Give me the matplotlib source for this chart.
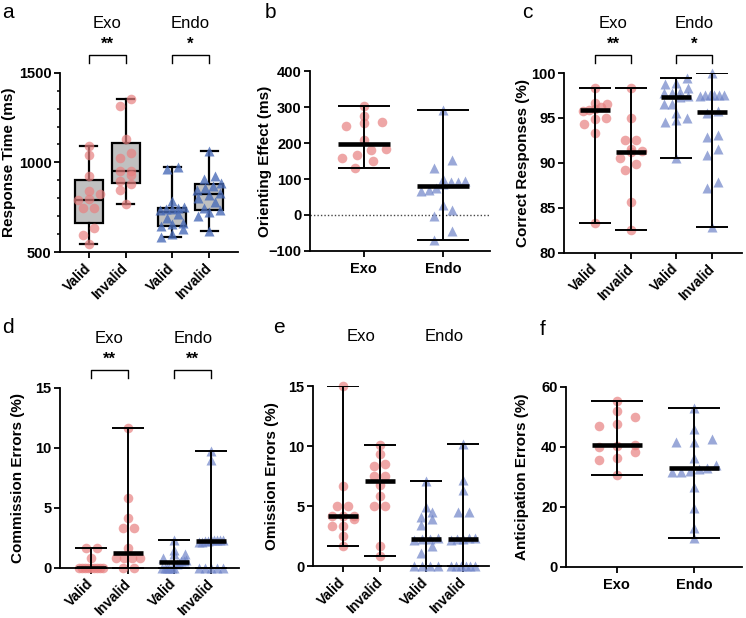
import numpy as np
import matplotlib
matplotlib.use("Agg")
import matplotlib.pyplot as plt
from matplotlib.transforms import blended_transform_factory

plt.rcParams['font.family'] = ['Liberation Sans', 'DejaVu Sans']

# ---- data ----
groups4 = ['Valid', 'Invalid', 'Valid', 'Invalid']
groups2 = ['Exo', 'Endo']

# a: response time (ms)
a_exo_valid = [1093, 1041, 922, 842, 822, 794, 790, 745, 745, 636, 595, 543]
a_exo_invalid = [1351, 1316, 1128, 1050, 1022, 952, 950, 929, 898, 880, 846, 766]
a_endo_valid = [972, 966, 784, 750, 745, 742, 740, 735, 715, 690, 665, 655, 645, 630, 600, 586]
a_endo_invalid = [1063, 926, 905, 885, 870, 860, 845, 830, 816, 800, 780, 745, 735, 725, 700, 619]

# b: orienting effect (ms)
b_exo = [303, 275, 259, 256, 247, 208, 185, 180, 168, 160, 151, 131]
b_endo = [291, 154, 132, 100, 95, 92, 92, 85, 75, 70, 68, 27, 13, -2, -45, -70]

# c: correct responses (%)
c_exo_valid = [98.37, 96.7, 96.6, 96.25, 96.0, 95.9, 95.8, 95.0, 94.9, 94.3, 93.36, 83.34]
c_exo_invalid = [98.37, 95.03, 92.5, 92.5, 91.6, 91.3, 91.2, 90.5, 89.9, 89.2, 85.7, 82.5]
c_endo_valid = [99.5, 98.9, 98.8, 98.3, 97.9, 97.8, 97.8, 97.4, 97.35, 96.6, 96.6, 95.5, 95.0, 94.8, 94.5, 90.6]
c_endo_invalid = [100.0, 97.6, 97.6, 97.6, 97.6, 97.6, 97.5, 95.8, 95.5, 93.1, 92.9, 91.5, 90.9, 87.9, 87.2, 82.9]

# d: commission errors (%)
d_exo_valid = [1.67, 1.67, 0.83, 0, 0, 0, 0, 0, 0, 0, 0, 0]
d_exo_invalid = [11.67, 5.83, 4.17, 3.33, 3.33, 1.67, 0.83, 0.83, 0.83, 0.83, 0, 0]
d_endo_valid = [2.33, 1.5, 1.16, 1.16, 0.8, 0.6, 0.58, 0.58, 0.4, 0.3, 0, 0, 0, 0, 0, 0]
d_endo_invalid = [9.72, 9.0, 2.33, 2.33, 2.33, 2.33, 2.27, 2.22, 2.22, 2.17, 2.17, 0, 0, 0, 0, 0]

# e: omission errors (%)
e_exo_valid = [15.0, 6.67, 5.0, 5.0, 4.2, 4.17, 4.17, 3.9, 3.33, 3.33, 2.5, 1.67]
e_exo_invalid = [10.08, 9.33, 8.47, 8.33, 7.5, 7.5, 6.72, 5.83, 5.0, 5.0, 1.67, 0.83]
e_endo_valid = [7.08, 4.9, 4.5, 4.1, 3.9, 3.4, 2.3, 2.25, 2.25, 2.2, 1.7, 1.06, 0, 0, 0, 0]
e_endo_invalid = [10.2, 7.2, 6.3, 4.5, 4.5, 2.35, 2.3, 2.28, 2.27, 2.2, 0, 0, 0, 0, 0, 0]

# f: anticipation errors (%)
f_exo = [55.3, 51.9, 49.9, 47.6, 46.8, 40.7, 40.2, 40.0, 38.3, 36.1, 35.6, 30.5]
f_endo = [53.0, 45.8, 42.5, 41.7, 41.6, 36.1, 34.0, 33.0, 32.6, 32.0, 31.4, 31.4, 26.7, 19.5, 13.0, 9.5]

PINK = '#E88080'
BLUE = '#6F84C8'
BLUE_DARK = '#4A6CB8'

fig = plt.figure(figsize=(7.46, 6.18), dpi=100)


def make_ax(rect, ylim, yticks, xlim):
    ax = fig.add_axes(rect)
    ax.set_ylim(*ylim)
    ax.set_xlim(*xlim)
    ax.set_yticks(yticks)
    for s in ['top', 'right']:
        ax.spines[s].set_visible(False)
    for s in ['left', 'bottom']:
        ax.spines[s].set_linewidth(1.3)
    ax.tick_params(direction='out', length=4, width=1.3, labelsize=10.5, pad=2)
    for lab in ax.get_yticklabels():
        lab.set_fontweight('bold')
    return ax


def swarm_x(ax, x0, vals, step, max_half, row_h=8.0):
    # prism-like layout: points close in y share a row, rows are centred
    vals = np.asarray(vals, float)
    pts = ax.transData.transform(np.column_stack([np.full(len(vals), x0), vals]))
    ys = pts[:, 1]
    xc = pts[0, 0]
    xs = np.zeros(len(vals))
    order = np.argsort(ys)
    rows, cur, start = [], [order[0]], ys[order[0]]
    for i in order[1:]:
        if ys[i] - start < row_h:
            cur.append(i)
        else:
            rows.append(cur)
            cur, start = [i], ys[i]
    rows.append(cur)
    for row in rows:
        n = len(row)
        sp = step if n == 1 else min(step, 2 * max_half / (n - 1))
        offs = (np.arange(n) - (n - 1) / 2) * sp
        for j, i in enumerate(row):
            xs[i] = offs[j]
    back = ax.transData.inverted().transform(np.column_stack([xc + xs, ys]))
    return back[:, 0]


def dots(ax, x0, vals, circle, wide=False, dark=False):
    if wide:
        xs = swarm_x(ax, x0, vals, step=18, max_half=22, row_h=10)
    else:
        xs = swarm_x(ax, x0, vals, step=11, max_half=12)
    if circle:
        ax.scatter(xs, vals, s=48, marker='o', color=PINK, alpha=0.7, lw=0, zorder=2, clip_on=False)
    else:
        col = BLUE_DARK if dark else BLUE
        ax.scatter(xs, vals, s=52, marker='^', color=col, alpha=0.8 if dark else 0.7,
                   lw=0, zorder=2, clip_on=False)


def median_range(ax, pos, data, bar_w, cap):
    for x0, v in zip(pos, data):
        v = np.asarray(v, float)
        med = np.median(v)
        ax.errorbar([x0], [med], yerr=[[med - v.min()], [v.max() - med]], fmt='none',
                    ecolor='black', elinewidth=1.4, capsize=cap, capthick=1.4, zorder=3)
        ax.hlines(med, x0 - bar_w / 2, x0 + bar_w / 2, color='black', lw=3.3, zorder=4)


def group_labels(ax, pos, stars=None):
    tr = blended_transform_factory(ax.transData, ax.transAxes)
    for k, name in enumerate(['Exo', 'Endo']):
        xa, xb = pos[2 * k], pos[2 * k + 1]
        ax.text((xa + xb) / 2, 1.275, name, transform=tr, ha='center', va='center', fontsize=12)
        if stars is not None:
            ax.plot([xa, xa, xb, xb], [1.055, 1.10, 1.10, 1.055], transform=tr,
                    color='black', lw=1.0, clip_on=False)
            ax.text((xa + xb) / 2, 1.16, stars[k], transform=tr, ha='center', va='center',
                    fontsize=12, fontweight='bold')


def cat_ticks(ax, pos):
    ax.set_xticks(pos)
    ax.set_xticklabels(groups4, rotation=45, ha='right', va='center', rotation_mode='anchor',
                       fontsize=10, fontweight='bold')
    ax.tick_params(axis='x', pad=6)


pos4 = [0, 1, 2.25, 3.25]
pos2 = [0, 1]

# ---------- a ----------
ax = make_ax([0.0804, 0.592, 0.2386, 0.2904], (500, 1500), [500, 1000, 1500], (-0.78, 4.03))
ax.set_yticks(np.arange(600, 1500, 100), minor=True)
ax.tick_params(axis='y', which='minor', length=2.5, width=1.1)
a_data = [a_exo_valid, a_exo_invalid, a_endo_valid, a_endo_invalid]
stats = []
for v in a_data:
    q1, med, q3 = np.percentile(v, [25, 50, 75], method='weibull')
    stats.append(dict(med=med, q1=q1, q3=q3, whislo=min(v), whishi=max(v), fliers=[]))
ax.bxp(stats, positions=pos4, widths=0.76, capwidths=0.46, patch_artist=True, showfliers=False,
       boxprops=dict(facecolor='#C0C0C0', edgecolor='black', lw=1.6),
       whiskerprops=dict(color='black', lw=1.6), capprops=dict(color='black', lw=1.6),
       medianprops=dict(color='black', lw=1.6), manage_ticks=False, zorder=1)
for k, v in enumerate(a_data):
    dots(ax, pos4[k], v, circle=k < 2, dark=True)
cat_ticks(ax, pos4)
ax.set_ylabel('Response Time (ms)', fontsize=11, fontweight='bold')
ax.yaxis.set_label_coords(-0.245, 0.5)
group_labels(ax, pos4, stars=['**', '*'])

# ---------- b ----------
ax = make_ax([0.4155, 0.594, 0.2413, 0.2906], (-100, 400), np.arange(-100, 401, 100), (-0.68, 1.59))
ax.axhline(0, color='#444444', lw=1.0, ls=(0, (1, 1.5)), zorder=1)
for k, v in enumerate([b_exo, b_endo]):
    dots(ax, pos2[k], v, circle=k == 0, wide=True)
median_range(ax, pos2, [b_exo, b_endo], 0.65, 19)
ax.set_xticks(pos2)
ax.set_xticklabels(groups2, fontsize=10.5, fontweight='bold')
ax.tick_params(axis='x', pad=4)
ax.set_ylabel('Orienting Effect (ms)', fontsize=11, fontweight='bold')
ax.yaxis.set_label_coords(-0.21, 0.5)

# ---------- c ----------
ax = make_ax([0.756, 0.591, 0.2386, 0.2908], (80, 100), np.arange(80, 101, 5), (-0.86, 4.08))
c_data = [c_exo_valid, c_exo_invalid, c_endo_valid, c_endo_invalid]
for k, v in enumerate(c_data):
    dots(ax, pos4[k], v, circle=k < 2)
median_range(ax, pos4, c_data, 0.82, 11.5)
cat_ticks(ax, pos4)
ax.set_ylabel('Correct Responses (%)', fontsize=11, fontweight='bold')
ax.yaxis.set_label_coords(-0.19, 0.5)
group_labels(ax, pos4, stars=['**', '*'])

# ---------- d ----------
ax = make_ax([0.0804, 0.0814, 0.2399, 0.2913], (0, 15), [0, 5, 10, 15], (-0.84, 4.0))
d_data = [d_exo_valid, d_exo_invalid, d_endo_valid, d_endo_invalid]
for k, v in enumerate(d_data):
    dots(ax, pos4[k], v, circle=k < 2)
median_range(ax, pos4, d_data, 0.82, 11.5)
cat_ticks(ax, pos4)
ax.set_ylabel('Commission Errors (%)', fontsize=11, fontweight='bold')
ax.yaxis.set_label_coords(-0.195, 0.5)
group_labels(ax, pos4, stars=['**', '**'])

# ---------- e ----------
ax = make_ax([0.4196, 0.0841, 0.2359, 0.2913], (0, 15), [0, 5, 10, 15], (-0.81, 3.95))
e_data = [e_exo_valid, e_exo_invalid, e_endo_valid, e_endo_invalid]
for k, v in enumerate(e_data):
    dots(ax, pos4[k], v, circle=k < 2)
median_range(ax, pos4, e_data, 0.82, 11.5)
cat_ticks(ax, pos4)
ax.set_ylabel('Omission Errors (%)', fontsize=11, fontweight='bold')
ax.yaxis.set_label_coords(-0.193, 0.5)
group_labels(ax, pos4)

# ---------- f ----------
ax = make_ax([0.7587, 0.083, 0.2359, 0.2913], (0, 60), [0, 20, 40, 60], (-0.66, 1.62))
for k, v in enumerate([f_exo, f_endo]):
    dots(ax, pos2[k], v, circle=k == 0, wide=True)
median_range(ax, pos2, [f_exo, f_endo], 0.65, 19)
ax.set_xticks(pos2)
ax.set_xticklabels(groups2, fontsize=10.5, fontweight='bold')
ax.tick_params(axis='x', pad=4)
ax.set_ylabel('Anticipation Errors (%)', fontsize=11, fontweight='bold')
ax.yaxis.set_label_coords(-0.21, 0.5)

# panel letters
for letter, x, y in [('a', 0.003, 0.971), ('b', 0.355, 0.971), ('c', 0.700, 0.971),
                     ('d', 0.003, 0.461), ('e', 0.366, 0.461), ('f', 0.724, 0.458)]:
    fig.text(x, y, letter, fontsize=15, va='baseline', ha='left')

fig.savefig('out.png', dpi=100)
